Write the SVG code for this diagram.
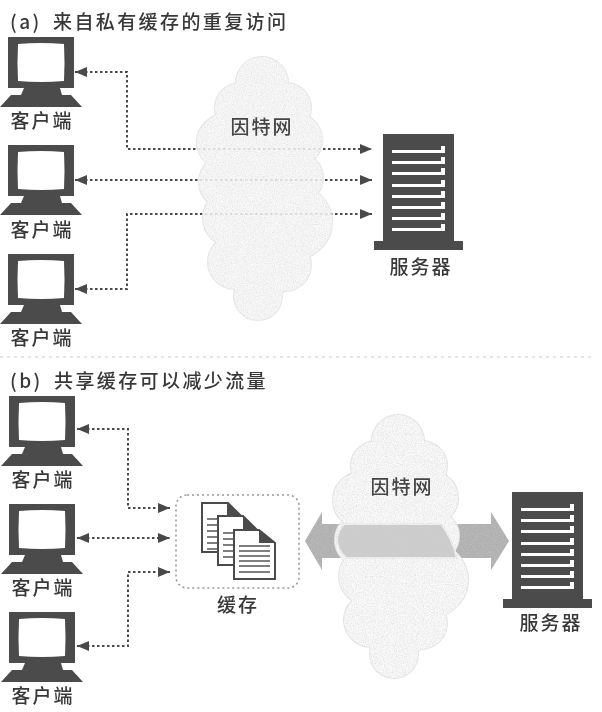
<svg xmlns="http://www.w3.org/2000/svg" width="602" height="712" viewBox="0 0 602 712">
<style>
text{font-family:"Noto Sans CJK SC","Noto Sans",sans-serif;fill:#383838;font-size:19px;letter-spacing:2px;font-weight:500}
.m{text-anchor:middle}
.t{letter-spacing:2.4px}
.inet{fill:#444}
.dark{fill:#4b4b4b}
.wire{fill:none;stroke:#4a4a4a;stroke-width:2;stroke-dasharray:2.5 2.5}
.doc{fill:#fff;stroke:#4b4b4b;stroke-width:2}
.ln{stroke:#555;stroke-width:1.6}
</style>
<defs>
<filter id="soft" x="-5%" y="-5%" width="110%" height="110%"><feGaussianBlur stdDeviation="0.45"/></filter>
<filter id="speck" x="-5%" y="-5%" width="110%" height="110%" color-interpolation-filters="sRGB">
<feTurbulence type="fractalNoise" baseFrequency="0.9" numOctaves="2" seed="4" result="n"/>
<feColorMatrix in="n" type="matrix" values="0 0 0 0 0.8  0 0 0 0 0.8  0 0 0 0 0.8  1.2 0 0 0 -0.5" result="g"/>
<feComposite in="g" in2="SourceAlpha" operator="in" result="s"/>
<feMerge><feMergeNode in="SourceGraphic"/><feMergeNode in="s"/></feMerge>
</filter>
<marker id="ah" viewBox="0 0 12 10" refX="12" refY="5" markerWidth="12" markerHeight="10" markerUnits="userSpaceOnUse" orient="auto-start-reverse"><path d="M0 0L12 5L0 10Z" fill="#4a4a4a"/></marker>
<g id="mon">
<path class="dark" d="M8 37H74V88H60L62 95H71L82 107H0L11 95H21L24 88H8Z"/>
<path fill="#fff" d="M18 44Q41 42 64 44Q65 63 64 81Q41 83 18 81Q17 63 18 44Z"/>
</g>
<g id="srv">
<path class="dark" d="M383 134H454V241H463V250H374V241H383Z"/>
<g fill="#fff">
<path id="st" d="M392 150H441V146H445V153H392Z"/>
<use href="#st" y="11"/><use href="#st" y="22"/><use href="#st" y="34"/><use href="#st" y="45"/><use href="#st" y="56"/><use href="#st" y="67"/><use href="#st" y="78"/>
</g>
</g>
<g id="cp">
<circle cx="262" cy="83" r="26"/><circle cx="240" cy="108" r="25"/><circle cx="286" cy="108" r="25"/><circle cx="262" cy="112" r="30"/>
<circle cx="225" cy="142" r="28"/><circle cx="295" cy="140" r="27"/><circle cx="262" cy="142" r="45"/>
<circle cx="226" cy="182" r="27"/><circle cx="298" cy="178" r="25"/><circle cx="262" cy="180" r="40"/>
<circle cx="232" cy="218" r="29"/><circle cx="295" cy="222" r="37"/><circle cx="262" cy="218" r="40"/>
<circle cx="235" cy="262" r="27"/><circle cx="285" cy="265" r="26"/><circle cx="262" cy="258" r="40"/>
<circle cx="258" cy="296" r="24"/>
</g>
</defs>
<g filter="url(#soft)">
<path d="M0 357H595" stroke="#ccc" stroke-width="1" stroke-dasharray="3 4" fill="none"/>
<g id="title-a"><text class="t" y="29"><tspan x="10">(a)</tspan><tspan x="53">来自私有缓存的重复访问</tspan></text></g>
<g id="title-b"><text class="t" y="388"><tspan x="10">(b)</tspan><tspan x="54">共享缓存可以减少流量</tspan></text></g>

<g id="connectors">
<path class="wire" marker-start="url(#ah)" marker-end="url(#ah)" d="M75 72H127V149H372"/>
<path class="wire" marker-start="url(#ah)" marker-end="url(#ah)" d="M75 180H372"/>
<path class="wire" marker-start="url(#ah)" marker-end="url(#ah)" d="M75 289H127V214H372"/>
<path class="wire" marker-start="url(#ah)" marker-end="url(#ah)" d="M77 429H128V508H170"/>
<path class="wire" marker-start="url(#ah)" marker-end="url(#ah)" d="M77 538H170"/>
<path class="wire" marker-start="url(#ah)" marker-end="url(#ah)" d="M77 646H128V572H170"/>
<path id="band-arrow" filter="url(#speck)" fill="#b0b0b0" d="M305 541L322 512V524H491V512L509 541L491 570V558H322V570Z"/>
</g>

<g id="cloud-a" opacity="0.88" filter="url(#speck)">
<use href="#cp" fill="#e6e6e6" stroke="#e6e6e6" stroke-width="2"/>
<use href="#cp" fill="#f7f7f7"/>
</g>
<g id="internet-a"><text class="m inet" x="262" y="134">因特网</text></g>

<g id="cloud-b" filter="url(#speck)">
<use href="#cp" x="136" y="358" fill="#e8e8e8" stroke="#e8e8e8" stroke-width="2"/>
<use href="#cp" x="136" y="358" fill="#f9f9f9"/>
<path fill="#cdcdcd" stroke="#f0f0f0" stroke-width="2" d="M344 524H441Q452 538 457 558H346Q329 541 344 524Z"/>
</g>
<g id="internet-b"><text class="m inet" x="402" y="494">因特网</text></g>

<g id="client-a1"><use href="#mon"/><text class="m" x="42" y="128">客户端</text></g>
<g id="client-a2"><use href="#mon" y="108"/><text class="m" x="42" y="237">客户端</text></g>
<g id="client-a3"><use href="#mon" y="217"/><text class="m" x="42" y="345">客户端</text></g>
<g id="client-b1"><use href="#mon" x="1" y="359"/><text class="m" x="43" y="487">客户端</text></g>
<g id="client-b2"><use href="#mon" x="1" y="467"/><text class="m" x="43" y="595">客户端</text></g>
<g id="client-b3"><use href="#mon" x="1" y="575"/><text class="m" x="43" y="703">客户端</text></g>

<g id="server-a"><use href="#srv"/><text class="m" x="421" y="274">服务器</text></g>
<g id="server-b"><use href="#srv" x="129" y="358"/><text class="m" x="551" y="630">服务器</text></g>

<g id="cache">
<rect x="176" y="495" width="123" height="93" rx="11" fill="#fff" stroke="#999" stroke-width="1.6" stroke-dasharray="2 3"/>
<g id="docs">
<g id="doc1"><path class="doc" d="M202 503H228L242 517V552H202Z"/><path class="dark" d="M227 503L242 516L227 516Z"/>
<path class="ln" d="M207 519H237M207 525H237M207 531H237M207 537H237M207 543H237M207 549H237"/></g>
<g id="doc2"><path class="doc" d="M218 516H243L258 531V565H218Z"/><path class="dark" d="M243 516L258 530L243 530Z"/>
<path class="ln" d="M223 533H253M223 539H253M223 545H253M223 551H253M223 557H253"/></g>
<g id="doc3"><path class="doc" d="M234 530H259L275 543V579H234Z"/><path class="dark" d="M259 530L275 543L259 543Z"/>
<path class="ln" d="M239 546H270M239 551H270M239 556H270M239 561H270M239 566H270M239 572H270"/></g>
</g>
<text class="m" x="238" y="612">缓存</text>
</g>
</g>
</svg>
